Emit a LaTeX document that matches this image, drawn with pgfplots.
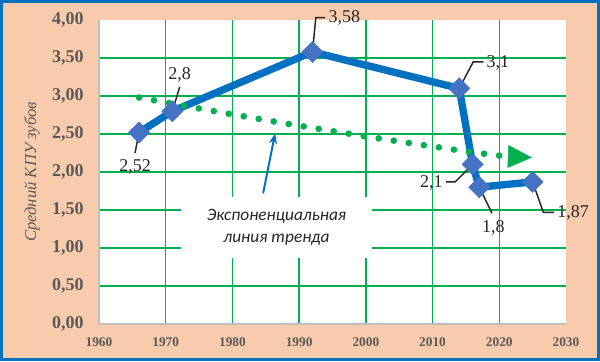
\documentclass[border=0pt]{standalone}
\usepackage{fontspec}
\setmainfont{Liberation Serif}
\newfontfamily\calibri{Carlito}
\usepackage{pgfplots}
\pgfplotsset{compat=1.18}
\usetikzlibrary{arrows.meta}
\definecolor{peach}{HTML}{F8CBAD}
\definecolor{frameblue}{HTML}{0070C0}
\definecolor{lineblue}{HTML}{0070C0}
\definecolor{markblue}{HTML}{4472C4}
\definecolor{gridgreen}{HTML}{00B050}
\definecolor{tickgray}{HTML}{595959}
\definecolor{txt}{HTML}{262626}
\begin{document}
\begin{tikzpicture}
\fill[peach] (-74.25pt,-27.75pt) rectangle (375.75pt,243pt);
\draw[frameblue, line width=2pt] (-73.25pt,-26.75pt) rectangle (374.75pt,242pt);
\begin{axis}[
  at={(0,0)}, anchor=south west,
  scale only axis, width=350.25pt, height=228pt,
  xmin=1960, xmax=2030, ymin=0, ymax=4,
  clip=false,
  axis x line*=bottom, axis y line*=left,
  axis line style={draw=black!25, line width=1pt, -},
  axis background/.style={fill=white},
  xtick={1970,1980,...,2020}, extra x ticks={1960,2030},
  ytick={0.5,1,...,3.5}, extra y ticks={0,4},
  extra x tick style={grid=none}, extra y tick style={grid=none},
  grid=major, major grid style={draw=gridgreen, line width=1.1pt},
  major tick length=0pt,
  /pgf/number format/assume math mode=true,
  xticklabel style={font=\bfseries\fontsize{10}{12}\selectfont, text=tickgray, yshift=-7pt, /pgf/number format/1000 sep={}},
  yticklabel style={font=\bfseries\fontsize{13.5}{16}\selectfont, text=tickgray, xshift=-8pt, /pgf/number format/fixed, /pgf/number format/fixed zerofill, /pgf/number format/precision=2, /pgf/number format/use comma},
]
\addplot[lineblue, line width=5.5pt, mark=square*, mark size=5.6pt, mark options={rotate=45, fill=markblue, draw=markblue, line width=0.4pt, solid}] coordinates {(1966,2.52) (1971,2.8) (1992,3.58) (2014,3.1) (2016,2.1) (2017,1.8) (2025,1.87)};
\addplot[gridgreen, line width=5pt, line cap=round, dash pattern=on 0pt off 11.4pt, -{Triangle[length=18pt,width=17pt,line width=0.4pt]}] coordinates {(1966,2.980) (1971,2.899) (1976,2.820) (1981,2.743) (1986,2.668) (1991,2.595) (1996,2.524) (2001,2.455) (2006,2.388) (2011,2.323) (2016,2.259) (2021,2.205) (2024.9,2.19)};
\node[fill=white, inner sep=0pt, minimum width=143pt, minimum height=46pt] at (axis cs:1986.6,1.27) {};
\node[font=\calibri\itshape\fontsize{13}{16.5}\selectfont, text=txt, align=center] at (axis cs:1986.6,1.27) {Экспоненциальная\\линия тренда};
\draw[lineblue, line width=1.5pt, -{Stealth[length=8pt,width=6pt]}] (axis cs:1984.6,1.72) -- (axis cs:1986.4,2.51);
\begin{scope}[txt, line width=1.1pt, every node/.style={font=\fontsize{13.5}{16}\selectfont, text=txt, inner sep=1pt}]
\draw (axis cs:1966,2.52) -- (axis cs:1965.4,2.25);
\node at (axis cs:1965.4,2.07) {2,52};
\draw (axis cs:1971,2.8) -- (axis cs:1972.1,3.12);
\node at (axis cs:1972.1,3.28) {2,8};
\draw (axis cs:1992,3.58) -- (axis cs:1992.5,4.03) -- (axis cs:1993.9,4.03);
\node[anchor=west] at (axis cs:1994.1,4.03) {3,58};
\draw (axis cs:2014,3.1) -- (axis cs:2016.1,3.45) -- (axis cs:2017.6,3.45);
\node[anchor=west] at (axis cs:2017.8,3.44) {3,1};
\draw (axis cs:2016,2.1) -- (axis cs:2013.4,1.87) -- (axis cs:2012.0,1.87);
\node[anchor=east] at (axis cs:2011.8,1.85) {2,1};
\draw (axis cs:2017,1.8) -- (axis cs:2018.9,1.46);
\node at (axis cs:2019.1,1.26) {1,8};
\draw (axis cs:2025,1.87) -- (axis cs:2026.6,1.47) -- (axis cs:2028.2,1.47);
\node[anchor=west] at (axis cs:2028.4,1.46) {1,87};
\end{scope}
\node[rotate=90, font=\itshape\fontsize{12.5}{15}\selectfont, text=tickgray] at ([xshift=-50.25pt]rel axis cs:0,0.5) {Средний КПУ зубов};
\end{axis}
\pgfresetboundingbox
\path[use as bounding box] (-74.25pt,-27.75pt) rectangle (375.75pt,243pt);
\end{tikzpicture}
\end{document}
